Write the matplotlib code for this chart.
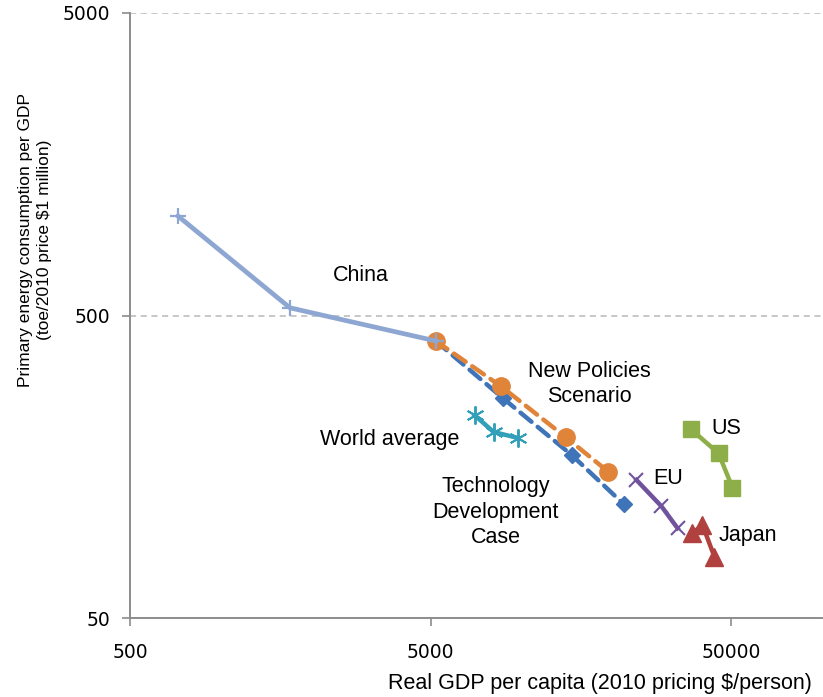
import matplotlib.pyplot as plt
from matplotlib.ticker import FixedLocator, FixedFormatter, NullLocator

# GDP per capita (2010 $/person) vs primary energy per GDP (toe / $1 million)
china_gdp = [722, 1702, 5195]
china_energy = [1066, 530, 412]

nps_gdp = [5195, 8550, 14060, 19500]
nps_energy = [412, 292, 198, 152]

tdc_gdp = [5195, 8670, 14700, 21900]
tdc_energy = [412, 267, 173, 119]

world_gdp = [7000, 8090, 9725]
world_energy = [234, 206, 197]

eu_gdp = [24150, 29250, 33100]
eu_energy = [143, 117, 99]

us_gdp = [36550, 45300, 50350]
us_energy = [211, 175, 135]

japan_gdp = [37100, 40050, 43900]
japan_energy = [95.5, 101.5, 79.6]

x_ticks = [500, 5000, 50000]
y_ticks = [50, 500, 5000]

fig = plt.figure(figsize=(8.23, 6.97), dpi=100)
ax = fig.add_axes([130 / 823, 1 - 618 / 697, 692 / 823, 605 / 697])
ax.set_xscale('log')
ax.set_yscale('log')
ax.set_xlim(500, 100000)
ax.set_ylim(50, 5000)

for v in [500, 5000]:
    ax.axhline(v, color='#b8b8b8', lw=1.1, ls=(0, (4, 3)), zorder=1)

ax.plot(tdc_gdp, tdc_energy, color='#3f74b8', lw=3.2, ls=(0, (3.2, 1.8)),
        dash_capstyle='round', marker='D', ms=8.5, zorder=3)
ax.plot(nps_gdp, nps_energy, color='#e0843a', lw=3.2, ls=(0, (3.2, 1.8)),
        dash_capstyle='round', marker='o', ms=12.5, zorder=4)
ax.plot(china_gdp, china_energy, color='#8ea6d2', lw=3.4, marker='+', ms=12,
        mew=1.6, zorder=5)
ax.plot(world_gdp, world_energy, color='#31a0b8', lw=3.2, marker=(6, 2, 0),
        ms=13, mew=1.4, zorder=4)
ax.plot(eu_gdp, eu_energy, color='#71539d', lw=3.2, marker='x', ms=10,
        mew=1.5, zorder=4)
ax.plot(us_gdp, us_energy, color='#8dae48', lw=3.2, marker='s', ms=12,
        zorder=4)
ax.plot(japan_gdp, japan_energy, color='#b0413e', lw=3.2, marker='^', ms=13,
        zorder=4)

lab = dict(fontsize=15.5, family=['Liberation Sans', 'DejaVu Sans'],
           ha='center', va='center', linespacing=1.3)
ax.text(2925, 676, 'China', **lab)
ax.text(16870, 297, 'New Policies\nScenario', **lab)
ax.text(3655, 195, 'World average', **lab)
ax.text(8220, 112, 'Technology\nDevelopment\nCase', **lab)
ax.text(30900, 145, 'EU', **lab)
ax.text(48100, 212, 'US', **lab)
ax.text(56500, 93.4, 'Japan', **lab)

ax.xaxis.set_major_locator(FixedLocator(x_ticks))
ax.xaxis.set_major_formatter(FixedFormatter([str(t) for t in x_ticks]))
ax.yaxis.set_major_locator(FixedLocator(y_ticks))
ax.yaxis.set_major_formatter(FixedFormatter([str(t) for t in y_ticks]))
ax.xaxis.set_minor_locator(NullLocator())
ax.yaxis.set_minor_locator(NullLocator())
ax.tick_params(axis='both', which='major', direction='out', length=6,
               width=1.2, color='#8c8c8c', labelsize=13.5, pad=6)
ax.tick_params(axis='x', pad=12)
ax.tick_params(axis='y', pad=8)

for side in ['top', 'right']:
    ax.spines[side].set_visible(False)
for side in ['left', 'bottom']:
    ax.spines[side].set_color('#8c8c8c')
    ax.spines[side].set_linewidth(1.4)

ax.set_ylabel('Primary energy consumption per GDP\n(toe/2010 price $1 million)',
              fontsize=12.5, family=['Liberation Sans', 'DejaVu Sans'],
              linespacing=1.4)
ax.yaxis.set_label_coords(-0.112, 0.625)
fig.text(812 / 823, 1 - 683 / 697, 'Real GDP per capita (2010 pricing $/person)',
         fontsize=15.5, family=['Liberation Sans', 'DejaVu Sans'],
         ha='right', va='center')

fig.savefig('out.png', dpi=100)
